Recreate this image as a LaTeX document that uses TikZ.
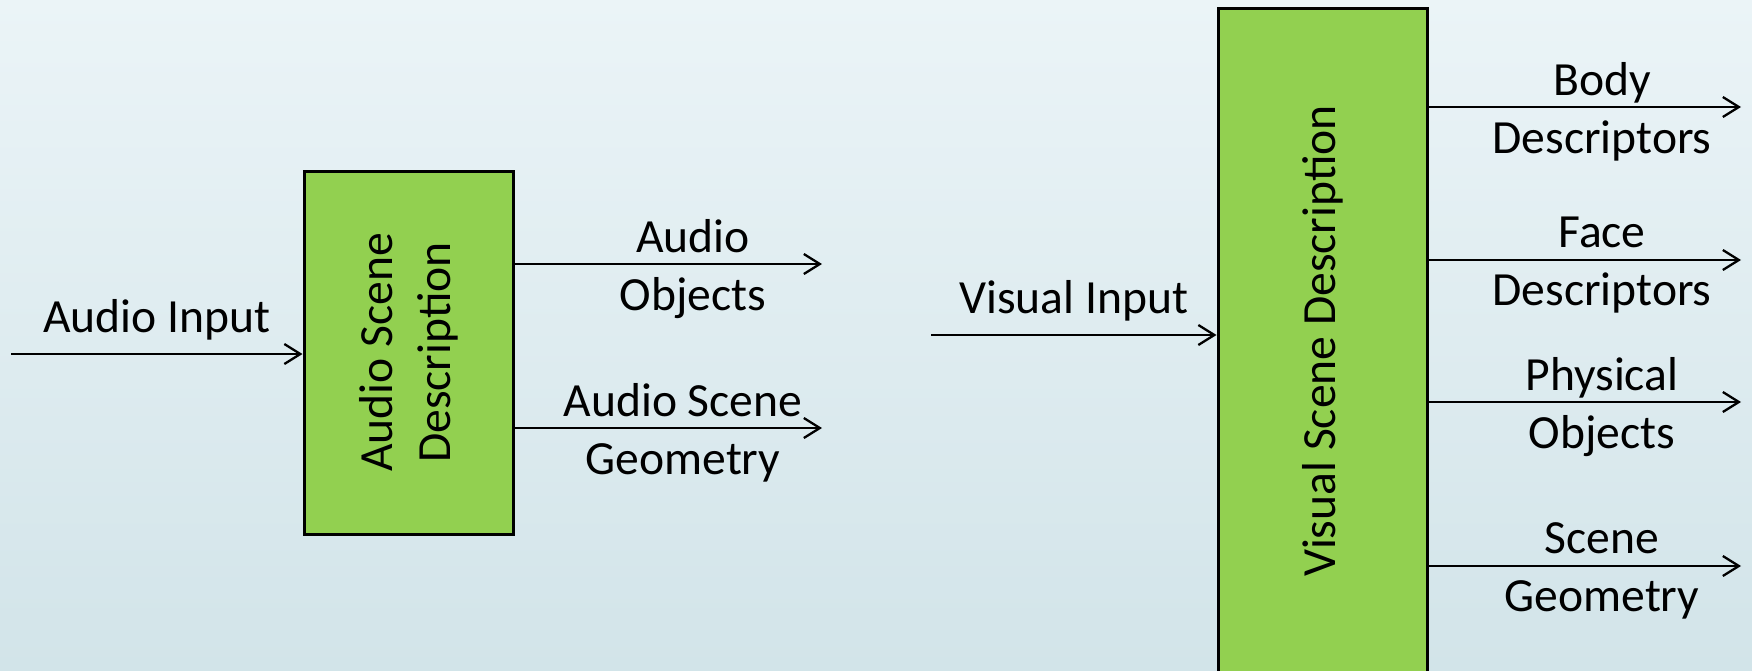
\documentclass[tikz,border=0pt]{standalone}
\usepackage{fontspec}
\setmainfont{Carlito}
\usetikzlibrary{arrows.meta, positioning}
\definecolor{boxgreen}{HTML}{92D050}
\definecolor{bgtop}{HTML}{EBF4F7}
\definecolor{bgbot}{HTML}{D2E4E9}
\def\boxwidth{104.5pt}

\begin{document}
\begin{tikzpicture}[x=0.5pt, y=-0.5pt, ->, >={Straight Barb[length=8pt,width=10pt]}, line width=1.15pt,
    font=\fontsize{23.8}{29}\selectfont]
    \tikzstyle{scene box}=[draw=black, fill=boxgreen, line width=1.5pt, minimum width=\boxwidth, inner sep=0pt]
    \tikzstyle{box text}=[align=center, inner sep=0pt, rotate=90]
    \tikzstyle{annot}=[align=center, inner sep=0pt, yshift=-2.5pt]

    % Background
    \clip (0,0) rectangle (1752,670);
    \shade[top color=bgtop, bottom color=bgbot] (0,0) rectangle (1752,670);

    % Draw the two description blocks
    \node[scene box, minimum height=181.5pt] (A) at (408.5,352.5) {};
    \node[box text] (A-text) at (A.center) {Audio Scene\\Description};
    \node[scene box, minimum height=333pt] (V) at (1322.5,341) {};
    \node[box text] (V-text) at (V.center) {Visual Scene Description};

    % Inputs
    \coordinate (A-in) at (11,354);
    \draw (A-in) -- (A.west |- A-in) node[annot, midway, above=9pt] (A-inlabel) {Audio Input};
    \coordinate (V-in) at (931,335);
    \draw (V-in) -- (V.west |- V-in) node[annot, midway, above=9pt] (V-inlabel) {Visual Input};

    % Audio outputs
    \foreach \name / \y / \x / \txt in {1/264/693/{Audio\\Objects}, 2/428/683/{Audio Scene\\Geometry}} {
        \coordinate (A-out-\name) at (822,\y);
        \draw (A.east |- A-out-\name) -- (A-out-\name);
        \node[annot] (A-lab-\name) at (\x,\y) {\txt};
    }

    % Visual outputs
    \foreach \name / \y / \txt in {1/107/{Body\\Descriptors}, 2/260/{Face\\Descriptors},
        3/402/{Physical\\Objects}, 4/566/{Scene\\Geometry}} {
        \coordinate (V-out-\name) at (1741,\y);
        \draw (V.east |- V-out-\name) -- (V-out-\name);
        \node[annot] (V-lab-\name) at (1602,\y) {\txt};
    }
\end{tikzpicture}
\end{document}
